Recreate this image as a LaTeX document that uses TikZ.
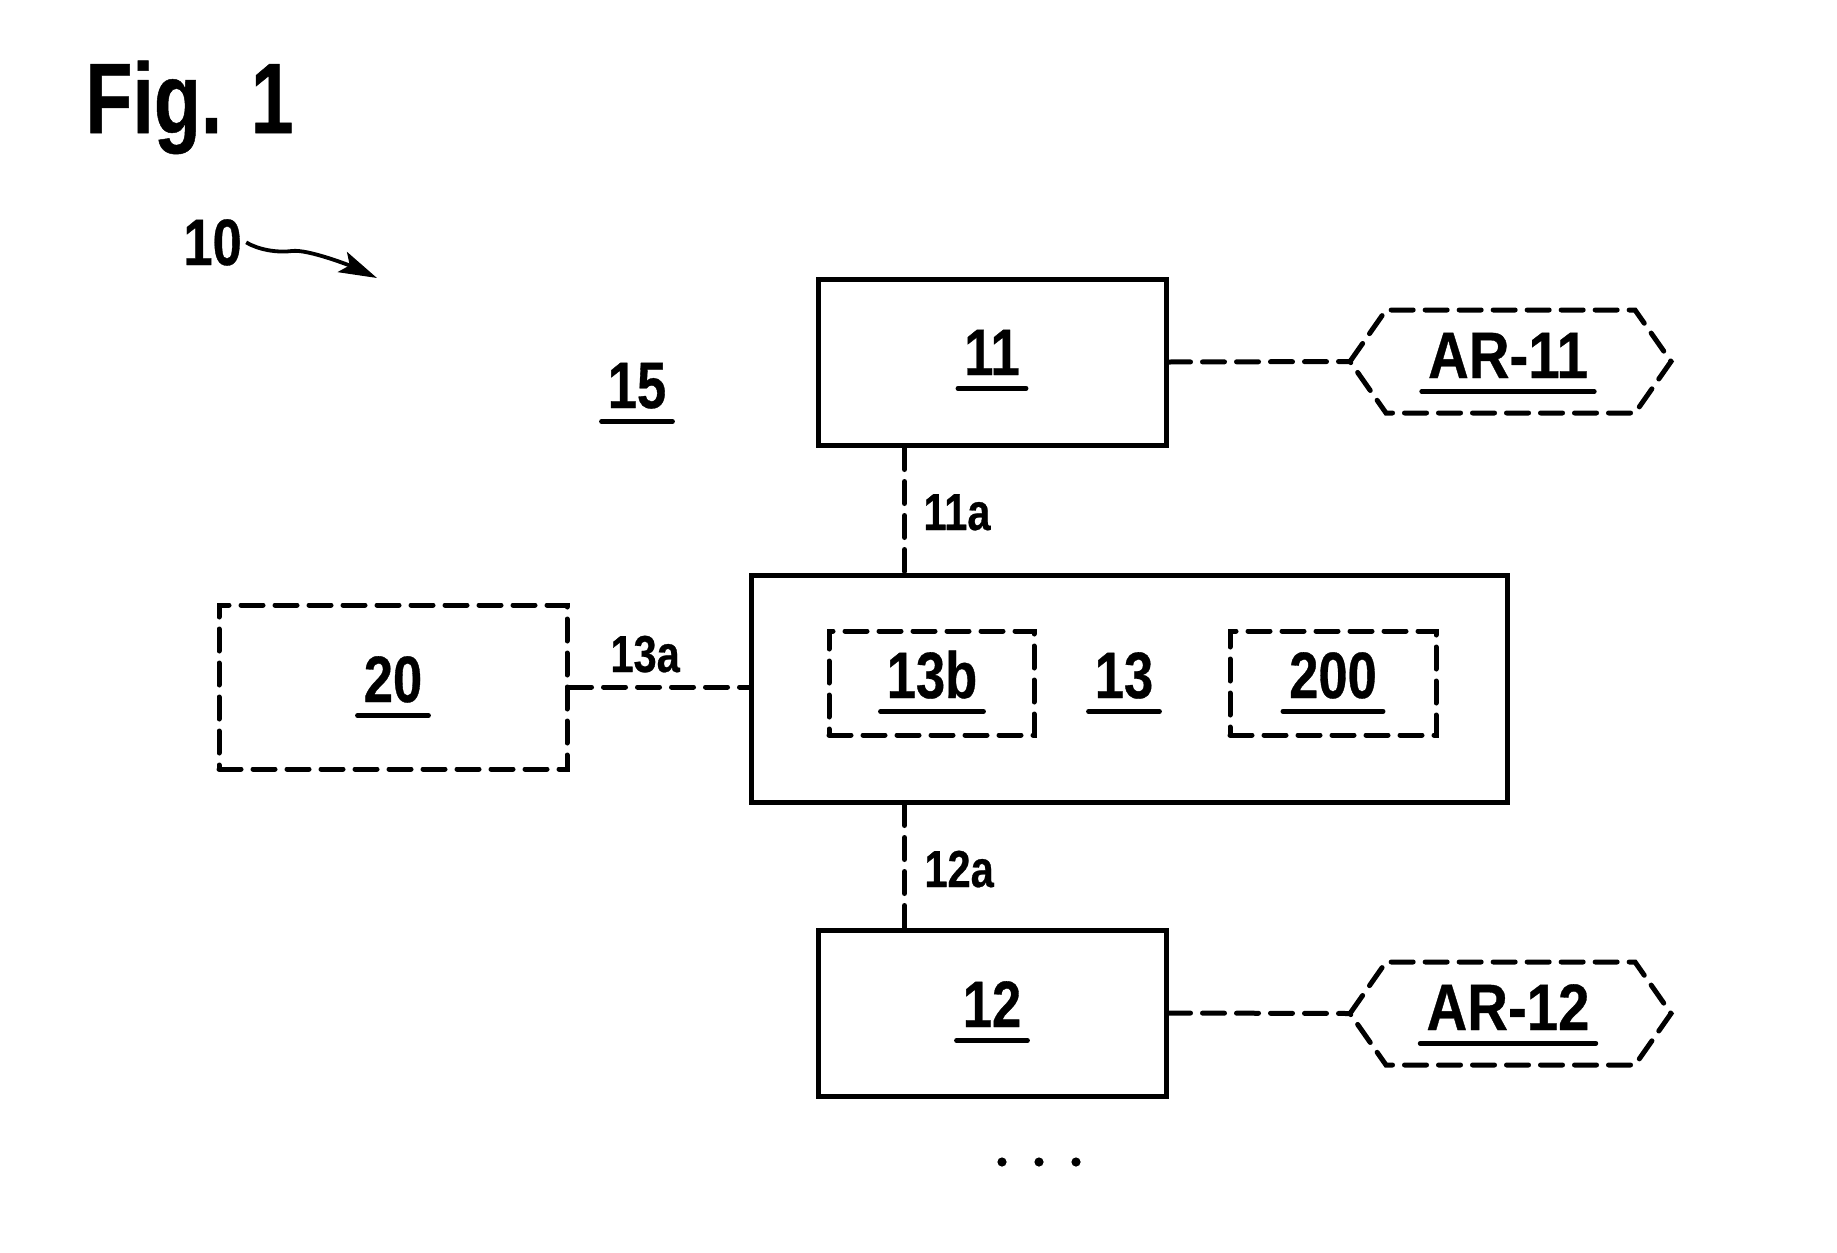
\documentclass[tikz,border=0pt]{standalone}
\usepackage{fontspec}
\newfontfamily\labfont{Liberation Sans Bold}[FakeStretch=0.8, FakeBold=0.5]
\newfontfamily\titlefont{Liberation Sans Bold}[FakeStretch=0.77, FakeBold=0.5]
\usetikzlibrary{arrows.meta}

% underlined reference numeral: name, position, text
\newcommand\ulab[3]{%
  \node[lab, anchor=base] (#1) at (#2) {#3};
  \draw[uline] ([xshift=-3pt,yshift=-6.7pt]#1.base west) -- ([xshift=3pt,yshift=-6.7pt]#1.base east);}

% dashed hexagon round an invisible node
\newcommand\hexframe[1]{%
  \draw[link] (#1.west) -- ([xshift=18pt]#1.north west) -- ([xshift=-18pt]#1.north east)
    -- (#1.east) -- ([xshift=-18pt]#1.south east) -- ([xshift=18pt]#1.south west) -- cycle;}

\begin{document}
\begin{tikzpicture}[x=0.5pt,y=-0.5pt,
  lab/.style={font=\labfont\fontsize{32.8}{36}\selectfont, inner sep=0pt},
  widelab/.style={font=\labfont\addfontfeature{FakeStretch=0.86}\fontsize{32.8}{36}\selectfont, inner sep=0pt},
  smalllab/.style={font=\labfont\fontsize{26}{30}\selectfont, inner sep=0pt},
  figlab/.style={font=\titlefont\fontsize{50}{56}\selectfont, inner sep=0pt},
  uline/.style={line width=2.3pt, line cap=round},
  frame/.style={draw, line width=2.5pt, inner sep=0pt},
  dframe/.style={draw, line width=2.5pt, line cap=round, dash pattern=on 11pt off 6pt, inner sep=0pt},
  link/.style={line width=2.5pt, line cap=round, dash pattern=on 11pt off 6pt},
  hexbase/.style={inner sep=0pt, outer sep=0pt, minimum width=160.5pt, minimum height=51.5pt},
  dot/.style={circle, fill, inner sep=0pt, minimum size=4.6pt},
]
\useasboundingbox (0,0) rectangle (1837,1253);

% title
\node[figlab, anchor=base west] (fig) at (85,133) {Fig. 1};

% system reference with wavy arrow
\node[lab, anchor=base west] (t10) at (183,265) {10};
\coordinate (a10) at (377,278);
\draw[line width=1.9pt, -{Stealth[length=19pt,width=11pt,inset=4pt]}]
  ([xshift=2pt]t10.east) .. controls +(12,7) and +(-16,2) .. (292,251)
  .. controls +(16,-2) and +(-26,-12) .. (a10);

% area label
\ulab{t15}{637,408}{15}

% blocks
\node[frame, minimum width=174pt, minimum height=83pt] (b11) at (992,362) {};
\node[frame, minimum width=378pt, minimum height=113.5pt] (b13) at (1129,688.5) {};
\node[frame, minimum width=174pt, minimum height=83pt] (b12) at (992,1013) {};
\node[dframe, minimum width=174pt, minimum height=82pt] (b20) at (393,687) {};
\node[dframe, minimum width=102.5pt, minimum height=52pt] (b13b) at (931.5,683) {};
\node[dframe, minimum width=103pt, minimum height=52pt] (b200) at (1333,683) {};

% hexagons
\node[hexbase] (h11) at (1510.5,361.5) {};
\hexframe{h11}
\node[hexbase] (h12) at (1510.5,1013.5) {};
\hexframe{h12}

% labels in blocks
\ulab{t11}{992,375}{11}
\ulab{t12}{992,1027}{12}
\ulab{t13}{1124,698}{13}
\ulab{t13b}{932,698}{13b}
\ulab{t200}{1333,698}{200}
\ulab{t20}{393,702}{20}
\node[widelab, anchor=base] (tar11) at (1508,378) {AR-11};
\draw[uline] ([xshift=-3pt,yshift=-6.7pt]tar11.base west) -- ([xshift=3pt,yshift=-6.7pt]tar11.base east);
\node[widelab, anchor=base] (tar12) at (1508,1030) {AR-12};
\draw[uline] ([xshift=-3pt,yshift=-6.7pt]tar12.base west) -- ([xshift=3pt,yshift=-6.7pt]tar12.base east);

% links
\draw[link] ([xshift=44.5pt]b11.south west) coordinate (l11) -- (l11 |- b13.north);
\draw[link] ([xshift=44.5pt]b12.north west) coordinate (l12) -- (l12 |- b13.south);
\draw[link] (b20.east) -- (b20.east -| b13.west);
\draw[link] (b11.east) -- (h11.west);
\draw[link] (b12.east) -- (h12.west);

% link labels
\node[smalllab, anchor=base west] (t11a) at (923,530) {11a};
\node[smalllab, anchor=base west] (t12a) at (924,887) {12a};
\node[smalllab, anchor=base west] (t13a) at (610,672) {13a};

% continuation dots
\node[dot] (d1) at (1002,1162) {};
\node[dot] (d2) at (1039,1162) {};
\node[dot] (d3) at (1076,1162) {};
\end{tikzpicture}
\end{document}
